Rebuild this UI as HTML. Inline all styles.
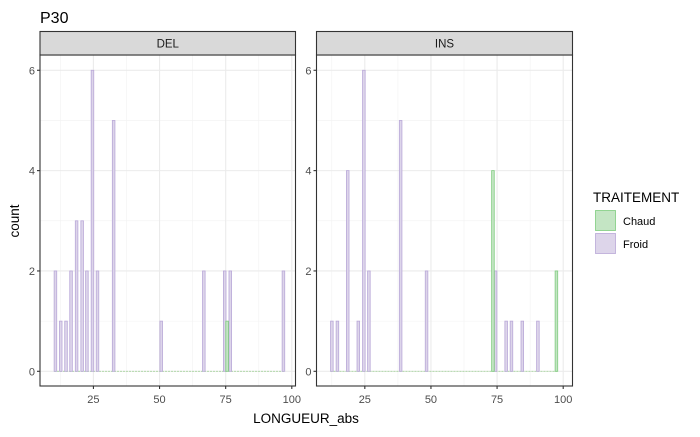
<!DOCTYPE html>
<html><head><meta charset="utf-8"><style>
body{margin:0;background:#fff}
svg text{font-family:"Liberation Sans",Arial,sans-serif}
</style></head><body>
<svg id="c" width="700" height="432" xmlns="http://www.w3.org/2000/svg"></svg>
<script>
const facets = ["DEL","INS"];
const delFroidX = [10.6,12.6,14.6,16.5,18.6,20.7,22.5,24.6,26.5,32.6,50.6,66.7,74.6,76.7,96.8];
const delFroidY = [2,1,1,2,3,3,2,6,2,5,1,2,2,2,2];
const delChaudX = [75.5];
const delChaudY = [1];
const insFroidX = [12.5,14.6,18.5,22.5,24.6,26.5,38.5,48.3,74.4,78.4,80.4,84.5,90.4];
const insFroidY = [1,1,4,1,6,2,5,2,2,1,1,1,1];
const insChaudX = [73.4,97.4];
const insChaudY = [4,2];
const xTicks = [25,50,75,100];
const yTicks = [0,2,4,6];
const legendLabels = ["Chaud","Froid"];

const NS="http://www.w3.org/2000/svg";
const svg=document.getElementById('c');
function mk(t,a,p){const e=document.createElementNS(NS,t);for(const k in a)e.setAttribute(k,a[k]);(p||svg).appendChild(e);return e;}
const panels=[{x0:40,x1:295.5,zero:27.3},{x0:316.5,x1:572.5,zero:298.7}];
const pxPerX=2.645, yZero=371.3, pxPerY=50.17, pTop=55, pBottom=386;
function yS(v){return yZero-v*pxPerY;}
const cols={Chaud:{fill:"#c4e5c4",stroke:"#7fcc7f"},Froid:{fill:"#ddd5ea",stroke:"#b9a8d8"}};
const data=[[[delFroidX,delFroidY,"Froid"],[delChaudX,delChaudY,"Chaud"]],[[insFroidX,insFroidY,"Froid"],[insChaudX,insChaudY,"Chaud"]]];

const t=mk('text',{x:40,y:23,'font-size':16,fill:'#000'});


t.textContent='P30';

panels.forEach((p,i)=>{
  const xS=v=>p.zero+v*pxPerX;
  const g=mk('g',{});
  
  
  mk('rect',{x:p.x0,y:pTop,width:p.x1-p.x0,height:pBottom-pTop,fill:'#fff'},g);
  [1,3,5].forEach(v=>mk('line',{x1:p.x0,x2:p.x1,y1:yS(v),y2:yS(v),stroke:'#f2f2f2','stroke-width':0.6},g));
  [12.5,37.5,62.5,87.5].forEach(v=>mk('line',{x1:xS(v),x2:xS(v),y1:pTop,y2:pBottom,stroke:'#f2f2f2','stroke-width':0.6},g));
  yTicks.forEach(v=>mk('line',{x1:p.x0,x2:p.x1,y1:yS(v),y2:yS(v),stroke:'#ebebeb','stroke-width':1.1},g));
  xTicks.forEach(v=>mk('line',{x1:xS(v),x2:xS(v),y1:pTop,y2:pBottom,stroke:'#ebebeb','stroke-width':1.1},g));
  const xs=data[i].flatMap(d=>d[0]);
  mk('line',{x1:xS(Math.min(...xs)-0.5),x2:xS(Math.max(...xs)+0.5),y1:yZero,y2:yZero,stroke:'#a9d6a0','stroke-width':0.8,'stroke-dasharray':'2,1'},g);
  data[i].forEach(([X,Y,grp])=>{
    X.forEach((x,j)=>{
      const r=mk('rect',{x:xS(x)-1.2,y:yS(Y[j]),width:2.6,height:Y[j]*pxPerY,fill:cols[grp].fill,stroke:cols[grp].stroke,'stroke-width':0.8},g);
      
      
    });
  });
  mk('rect',{x:p.x0,y:pTop,width:p.x1-p.x0,height:pBottom-pTop,fill:'none',stroke:'#333','stroke-width':1.1},g);
  const s=mk('rect',{x:p.x0,y:31.5,width:p.x1-p.x0,height:23.5,fill:'#d9d9d9',stroke:'#333','stroke-width':1.1},g);
  
  
  const st=mk('text',{x:(p.x0+p.x1)/2,y:47.5,'font-size':11.5,'text-anchor':'middle',fill:'#1a1a1a'},g);
  st.textContent=facets[i];
  yTicks.forEach(v=>{
    mk('line',{x1:p.x0-3,x2:p.x0,y1:yS(v),y2:yS(v),stroke:'#333','stroke-width':1.1},g);
    const l=mk('text',{x:p.x0-5,y:yS(v)+4,'font-size':11,'text-anchor':'end',fill:'#4d4d4d'},g);
    
    
    l.textContent=v;
  });
  xTicks.forEach(v=>{
    mk('line',{x1:xS(v),x2:xS(v),y1:pBottom,y2:pBottom+3,stroke:'#333','stroke-width':1.1},g);
    const l=mk('text',{x:xS(v),y:403,'font-size':11,'text-anchor':'middle',fill:'#4d4d4d'},g);
    
    
    l.textContent=v;
  });
});
const xt=mk('text',{x:306,y:423,'font-size':13.5,'text-anchor':'middle',fill:'#000'});


xt.textContent='LONGUEUR_abs';
const yt=mk('text',{x:0,y:0,'font-size':13.5,'text-anchor':'middle',fill:'#000',transform:'translate(19,221) rotate(-90)'});


yt.textContent='count';
const lg=mk('g',{});


const lt=mk('text',{x:593,y:202,'font-size':13.5,fill:'#000'},lg);
lt.textContent='TRAITEMENT';
legendLabels.forEach((n,k)=>{
  const e=mk('g',{},lg);
  
  
  mk('rect',{x:595.5,y:210.5+k*23,width:20,height:20,fill:cols[n].fill,stroke:cols[n].stroke,'stroke-width':0.8},e);
  const tx=mk('text',{x:623,y:225+k*23,'font-size':11,fill:'#000'},e);
  tx.textContent=n;
});
</script>
</body></html>
